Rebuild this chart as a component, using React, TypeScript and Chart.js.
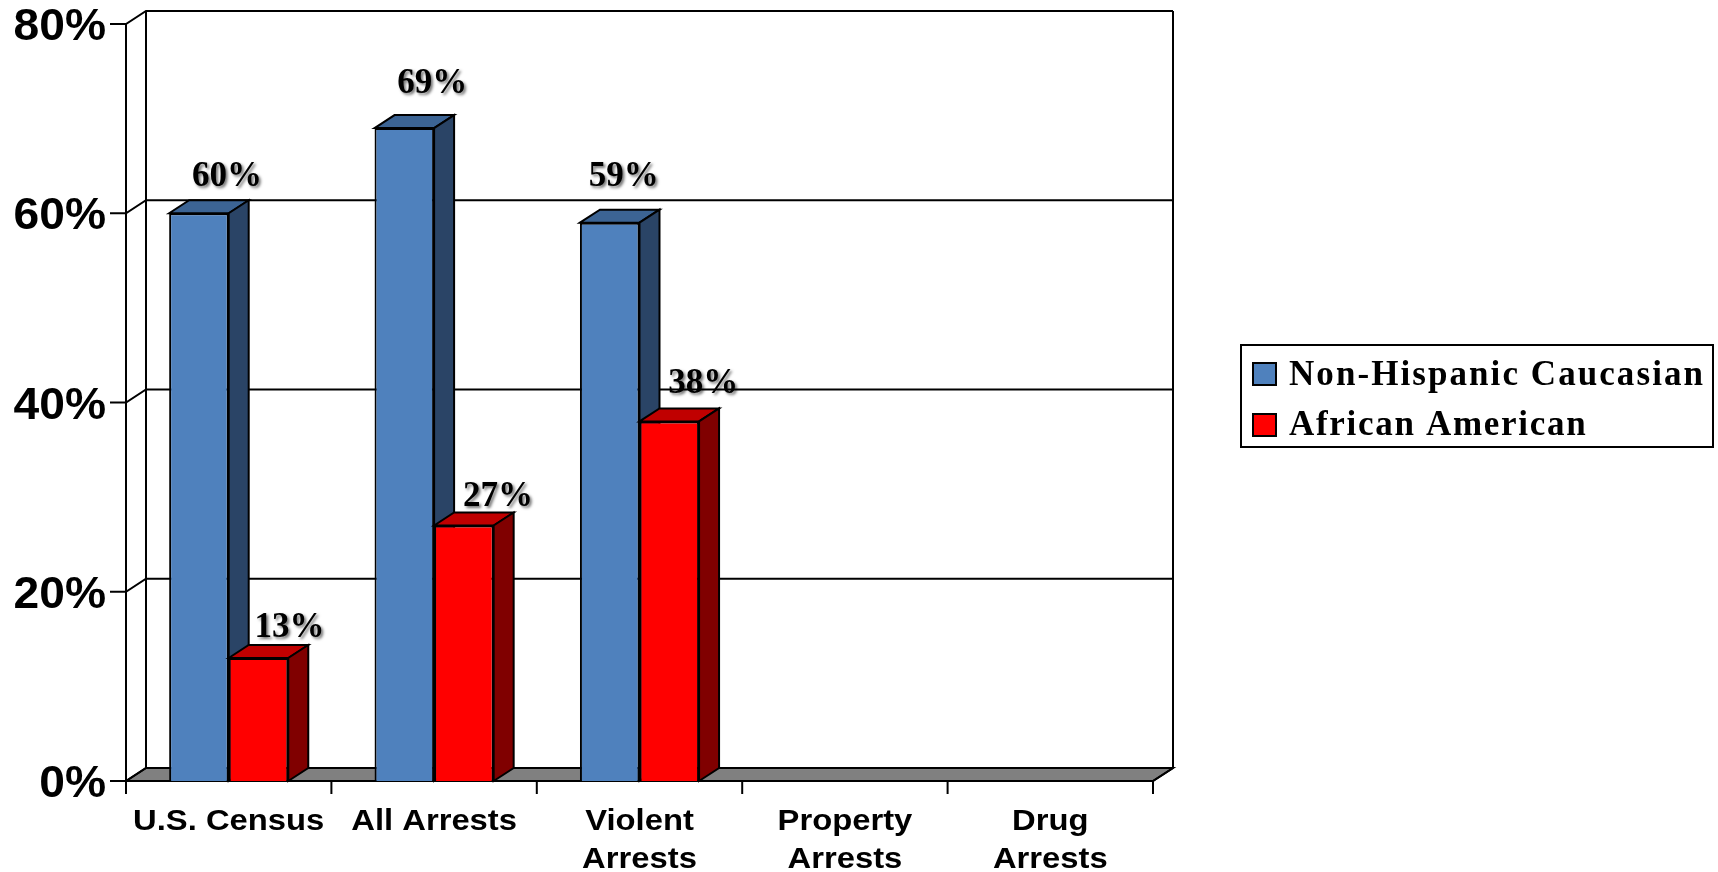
import React, { useEffect, useRef } from "react";
import { Chart, registerables } from "chart.js";

Chart.register(...registerables);

const categories = [
  "U.S. Census",
  "All Arrests",
  ["Violent", "Arrests"],
  ["Property", "Arrests"],
  ["Drug", "Arrests"],
];
const caucasian = [60, 69, 59, null, null];
const african = [13, 27, 38, null, null];
const seriesNames = ["Non-Hispanic Caucasian", "African American"];
const yTicks = { min: 0, max: 80, step: 20 };

const frontColors = ["#4f81bd", "#ff0000"];
const topColors = ["#3c6494", "#c00000"];
const sideColors = ["#2a4466", "#800000"];

const labelNudges = [
  [[28, -36], [28, -44], [14, -46]],
  [[31, -30], [34, -29], [34, -37]],
];
const legendSpacing = ["2.07px", "1.7px"];

const DX = 20;
const DY = 13;

function stretched(ctx: any, text: string, x: number, y: number, font: string, sx: number, align: string) {
  ctx.save();
  ctx.translate(x, y);
  ctx.scale(sx, 1);
  ctx.font = font;
  ctx.fillStyle = "#000";
  ctx.textAlign = align;
  ctx.textBaseline = "middle";
  ctx.fillText(text, 0, 0);
  ctx.restore();
}

function drawFaces(chart: any, idx: number) {
  const { ctx } = chart;
  const meta = chart.getDatasetMeta(idx);
  ctx.save();
  ctx.strokeStyle = "#000";
  ctx.lineWidth = 2;
  meta.data.forEach((bar: any, i: number) => {
    if (chart.data.datasets[idx].data[i] == null) return;
    const l = bar.x - bar.width / 2;
    const r = bar.x + bar.width / 2;
    const t = bar.y;
    const b = bar.base;
    ctx.beginPath();
    ctx.moveTo(l, t);
    ctx.lineTo(l + DX, t - DY);
    ctx.lineTo(r + DX, t - DY);
    ctx.lineTo(r, t);
    ctx.closePath();
    ctx.fillStyle = topColors[idx];
    ctx.fill();
    ctx.stroke();
    ctx.beginPath();
    ctx.moveTo(r, t);
    ctx.lineTo(r + DX, t - DY);
    ctx.lineTo(r + DX, b - DY);
    ctx.lineTo(r, b);
    ctx.closePath();
    ctx.fillStyle = sideColors[idx];
    ctx.fill();
    ctx.stroke();
  });
  ctx.restore();
}

const wallPlugin = {
  id: "wall",
  beforeDatasetsDraw(chart: any) {
    const { ctx, scales } = chart;
    const y = scales.y;
    const x = scales.x;
    const L = x.left;
    const R = x.right;
    const T = y.top;
    const B = y.bottom;
    ctx.save();
    ctx.strokeStyle = "#000";
    ctx.lineWidth = 2;
    const line = (pts: number[][]) => {
      ctx.beginPath();
      pts.forEach((p, i) => (i ? ctx.lineTo(p[0], p[1]) : ctx.moveTo(p[0], p[1])));
      ctx.stroke();
    };
    ctx.beginPath();
    ctx.moveTo(L, B);
    ctx.lineTo(L + DX, B - DY);
    ctx.lineTo(R + DX, B - DY);
    ctx.lineTo(R, B);
    ctx.closePath();
    ctx.fillStyle = "#808080";
    ctx.fill();
    ctx.stroke();
    y.ticks.forEach((t: any) => {
      const py = y.getPixelForValue(t.value);
      line([[L - 16, py], [L, py], [L + DX, py - DY], [R + DX, py - DY]]);
    });
    line([[L, T], [L, B]]);
    line([[L + DX, T - DY], [L + DX, B - DY]]);
    line([[R + DX, T - DY], [R + DX, B - DY], [R, B]]);
    const w = (R - L) / categories.length;
    for (let i = 0; i <= categories.length; i++) {
      const px = L + i * w;
      line([[px, B], [px, B + 13]]);
    }
    line([[L, B], [R, B]]);
    ctx.restore();
    // left series first, so the series to its right overlaps its side face
    chart.data.datasets.forEach((_: any, idx: number) => {
      drawFaces(chart, idx);
      chart.getDatasetMeta(idx).controller.draw();
    });
  },
  beforeDatasetDraw() {
    return false;
  },
  afterDatasetsDraw(chart: any) {
    const { ctx, scales } = chart;
    ctx.save();
    chart.data.datasets.forEach((ds: any, d: number) => {
      const meta = chart.getDatasetMeta(d);
      meta.data.forEach((bar: any, i: number) => {
        const v = ds.data[i];
        if (v == null) return;
        const [nx, ny] = labelNudges[d][i];
        ctx.save();
        ctx.font = 'bold 35px "Liberation Serif"';
        ctx.textAlign = "center";
        ctx.textBaseline = "middle";
        ctx.fillStyle = "#000";
        ctx.shadowColor = "rgba(0,0,0,0.55)";
        ctx.shadowBlur = 3;
        ctx.shadowOffsetX = 2;
        ctx.shadowOffsetY = 2;
        ctx.fillText(`${v}%`, bar.x + nx, bar.y + ny);
        ctx.restore();
      });
    });
    const y = scales.y;
    y.ticks.forEach((t: any) => {
      stretched(ctx, `${t.value}%`, 106, y.getPixelForValue(t.value) + 4, 'bold 44px "Liberation Sans"', 1.05, "right");
    });
    const x = scales.x;
    categories.forEach((c, i) => {
      const px = x.getPixelForTick(i);
      const lines = Array.isArray(c) ? c : [c];
      lines.forEach((ln, k) => {
        stretched(ctx, ln, px, 822 + k * 38, 'bold 29px "Liberation Sans"', 1.13, "center");
      });
    });
    ctx.lineWidth = 2;
    ctx.strokeStyle = "#000";
    ctx.strokeRect(1241, 345, 472, 102);
    seriesNames.forEach((name, i) => {
      const top = 363 + i * 51;
      ctx.fillStyle = frontColors[i];
      ctx.fillRect(1253, top, 23, 22);
      ctx.strokeRect(1253, top, 23, 22);
      ctx.font = 'bold 35px "Liberation Serif"';
      (ctx as any).letterSpacing = legendSpacing[i];
      ctx.fillStyle = "#000";
      ctx.textAlign = "left";
      ctx.textBaseline = "alphabetic";
      ctx.fillText(name, 1289, 385 + i * 50);
      (ctx as any).letterSpacing = "0px";
    });
    ctx.restore();
  },
};

export default function App() {
  const ref = useRef<HTMLCanvasElement>(null);
  useEffect(() => {
    const chart = new Chart(ref.current as HTMLCanvasElement, {
      type: "bar",
      data: {
        labels: categories as any,
        datasets: [
          {
            label: seriesNames[0],
            data: caucasian,
            backgroundColor: frontColors[0],
            borderColor: "#000",
            borderWidth: 2,
          },
          {
            label: seriesNames[1],
            data: african,
            backgroundColor: frontColors[1],
            borderColor: "#000",
            borderWidth: 2,
          },
        ],
      },
      options: {
        responsive: false,
        animation: false,
        layout: { padding: { top: 24, right: 565, left: 0, bottom: 0 } },
        plugins: { legend: { display: false }, tooltip: { enabled: false } },
        datasets: { bar: { categoryPercentage: 0.58, barPercentage: 1 } },
        scales: {
          x: {
            grid: { display: false },
            border: { display: false },
            ticks: { display: false },
            afterFit: (s: any) => {
              s.height = 91;
            },
          },
          y: {
            min: yTicks.min,
            max: yTicks.max,
            grid: { display: false },
            border: { display: false },
            ticks: { display: false, stepSize: yTicks.step },
            afterFit: (s: any) => {
              s.width = 126;
            },
          },
        },
      } as any,
      plugins: [wallPlugin],
    });
    return () => chart.destroy();
  }, []);
  return (
    <div style={{ position: "fixed", left: 0, top: 0, width: 1718, height: 872, background: "#fff" }}>
      <canvas ref={ref} width={1718} height={872} style={{ display: "block" }} />
    </div>
  );
}
